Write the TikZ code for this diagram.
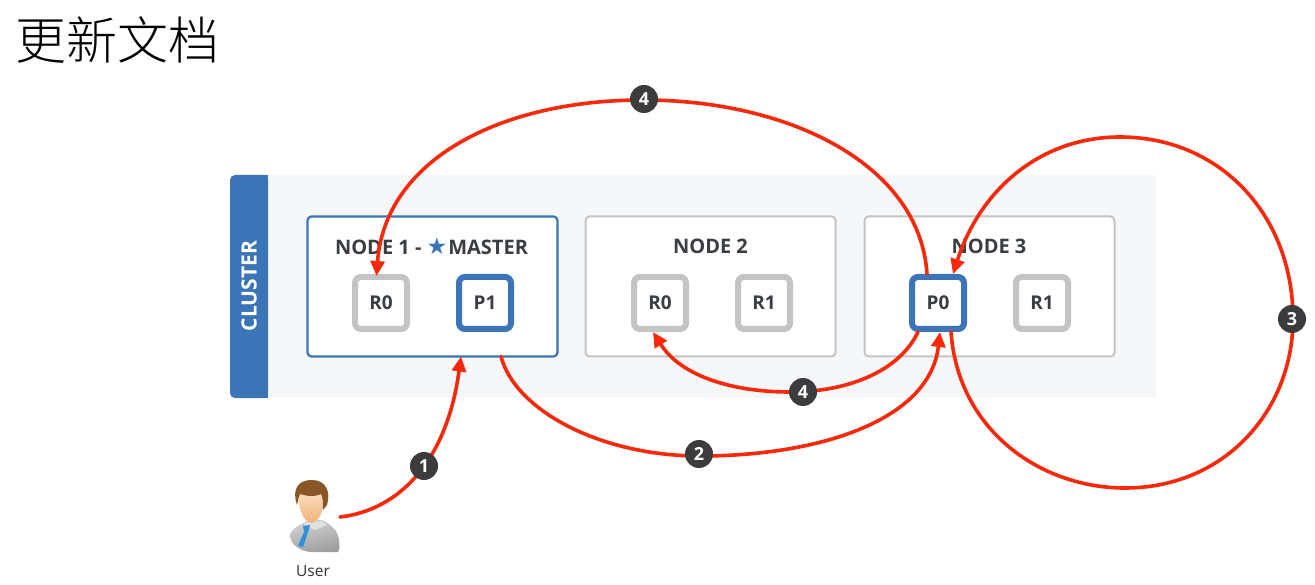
\documentclass[tikz,border=0pt]{standalone}
\usepackage{fontspec}
\setmainfont{Open Sans}
\newfontfamily\cjkfont{Noto Sans CJK SC}[UprightFont={* Light}]
\newfontfamily\symfont{DejaVu Sans}
\usetikzlibrary{arrows.meta,shapes.geometric}
\definecolor{esblue}{HTML}{3B74B7}
\definecolor{esgrey}{HTML}{C4C4C4}
\definecolor{boxgrey}{HTML}{C2C4C6}
\definecolor{panel}{HTML}{F5F7F9}
\definecolor{labelc}{HTML}{3A3D42}
\definecolor{flow}{HTML}{F8280A}
\definecolor{badgec}{HTML}{3C3C3E}
\definecolor{tiec}{HTML}{2F8FDD}
\tikzset{
  nodebox/.style={draw=boxgrey,line width=2pt,rounded corners=4pt,fill=white,minimum width=250pt,minimum height=140pt,outer sep=0pt,inner sep=0pt},
  masterbox/.style={nodebox,draw=esblue,line width=2.2pt},
  nodetitle/.style={font=\bfseries\fontsize{20}{20}\selectfont,text=labelc,inner sep=0pt},
  replica/.style={draw=esgrey,line width=6pt,rounded corners=6pt,fill=white,minimum width=52pt,minimum height=52pt,outer sep=0pt,inner sep=0pt,text=labelc,font=\bfseries\fontsize{19}{19}\selectfont},
  primary/.style={replica,draw=esblue},
  flowline/.style={draw=flow,line width=3.6pt,line cap=round},
  flowarrow/.style={flowline,-{Stealth[inset=0pt,length=15pt,width=14pt]}},
  badge/.style={circle,fill=badgec,text=white,minimum size=28pt,inner sep=0pt,font=\bfseries\fontsize{18}{18}\selectfont},
}
\begin{document}
\begin{tikzpicture}[x=1pt,y=-1pt]
\useasboundingbox (0,0) rectangle (1315,585);
\fill[white] (0,0) rectangle (1315,585);
\node[anchor=west,inner sep=0pt,font=\cjkfont\fontsize{51}{51}\selectfont] (title) at (15,40) {更新文档};
% cluster
\fill[panel] (268,175) rectangle (1156,398);
\fill[esblue,rounded corners=5pt] (268,175) -- (230,175) -- (230,398) -- (268,398) -- cycle;
\fill[esblue] (260,175) rectangle (268,398);
\node[rotate=90,text=white,font=\bfseries\fontsize{21}{21}\selectfont,inner sep=0pt] (cluster) at (249,286) {CLUSTER};
% nodes
\node[masterbox] (n1) at (432.5,286.5) {};
\node[nodebox] (n2) at (710.5,286.5) {};
\node[nodebox] (n3) at (989.5,286.5) {};
\node[nodetitle] (t1) at (431.5,246) {NODE 1 - {\symfont\fontsize{23}{23}\selectfont\color{esblue}★}\hspace{1pt}MASTER};
\node[nodetitle] (t2) at (710.5,246) {NODE 2};
\node[nodetitle] (t3) at (989,246) {NODE 3};
\node[replica] (r0a) at (381,303) {R0};
\node[primary] (p1) at (485,303) {P1};
\node[replica] (r0b) at (660,303) {R0};
\node[replica] (r1b) at (764,303) {R1};
\node[primary] (p0) at (938,303) {P0};
\node[replica] (r1c) at (1042,303) {R1};
% user
\coordinate (userhand) at (340,517);
\begin{scope}
  \shade[top color=white!82!black,bottom color=white!62!black,shading angle=15]
    (290,534) .. controls (294,527) and (303,523) .. (309,520) -- (322,520)
    .. controls (330,524) and (338,530) .. (339,540)
    .. controls (340,546) and (339,551) .. (338,552)
    -- (312,552) .. controls (302,552) and (289,545) .. (290,534) -- cycle;
  \fill[white!88!black] (303,524) -- (310,521) -- (322,521) -- (327,525) -- (315,530) -- cycle;
  \fill[tiec] (303,526) -- (310,525) -- (308.5,531) -- (303,547) -- (298,546) -- (304,532) -- cycle;
  \shade[top color=orange!18!white,bottom color=orange!55!brown!60!white]
    (298,490) .. controls (299,484) and (322,484) .. (323,492)
    .. controls (325,505) and (322,520) .. (312,523)
    .. controls (303,523) and (297,505) .. (298,490) -- cycle;
  \fill[brown!65!black!90!orange]
    (297,505) .. controls (292,490) and (297,480) .. (312,480)
    .. controls (326,480) and (331,492) .. (327,505)
    -- (323,510) .. controls (323,503) and (323,497) .. (321,494)
    .. controls (312,498) and (304,495) .. (300,494)
    .. controls (298,498) and (298,501) .. (297,505) -- cycle;
\end{scope}
\node[inner sep=0pt,text=black!80,font=\fontsize{15.5}{15.5}\selectfont] (user) at (313,571) {User};
% flows
\draw[flowarrow] (userhand) .. controls (400,510) and (447,460) .. ([xshift=28.5pt]n1.south);
\draw[flowarrow] ([xshift=68.5pt]n1.south) .. controls (515,410) and (600,456) .. (700,456)
   .. controls (820,456) and (930,420) .. ([yshift=-3pt,xshift=2pt]p0.south);
\draw[flowarrow] ([yshift=-3pt,xshift=13pt]p0.south) .. controls (958,430) and (1040,488) .. (1125,488)
   .. controls (1225,488) and (1293,410) .. (1293,319)
   .. controls (1293,215) and (1220,137) .. (1120,137)
   .. controls (1040,137) and (980,190) .. ([yshift=3pt,xshift=15pt]p0.north);
\draw[flowarrow] ([yshift=3pt,xshift=-11pt]p0.north) .. controls (920,165) and (790,100) .. (643,100)
   .. controls (500,100) and (385,160) .. ([xshift=-4.5pt,yshift=1pt]r0a.north);
\draw[flowarrow] ([yshift=-3pt,xshift=-20pt]p0.south) .. controls (900,370) and (850,392) .. (790,392)
   .. controls (730,392) and (680,375) .. ([yshift=-3pt,xshift=-7pt]r0b.south);
% badges
\node[badge] (b1) at (424,466) {1};
\node[badge] (b2) at (699,454) {2};
\node[badge] (b3) at (1292,319) {3};
\node[badge] (b4a) at (644,99) {4};
\node[badge] (b4b) at (803,392) {4};
\end{tikzpicture}
\end{document}
